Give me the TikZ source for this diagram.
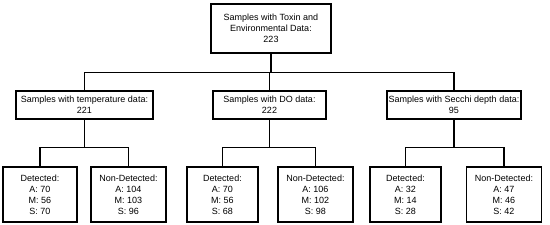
\documentclass[tikz,border=0pt]{standalone}
\usepackage{fontspec}
\setmainfont{Liberation Sans}
\usetikzlibrary{positioning,calc}

\begin{document}
\begin{tikzpicture}[x=1pt,y=-1pt,
  every node/.style={font=\fontsize{9}{11}\selectfont},
  box/.style={draw=black,line width=1.3pt,fill=white,align=center,inner sep=0pt},
  topbox/.style={box,minimum width=120pt,minimum height=49pt},
  midbox/.style={box,minimum height=28pt},
  leaf/.style={box,minimum height=55pt},
  link/.style={line width=1.2pt},
]
\useasboundingbox (0,0) rectangle (550,225);

%% ── Root ───────────────────────────────────────────────
\node[topbox] (root) at (271,28.5) {Samples with Toxin and\\Environmental Data:\\223};

%% ── Second level ───────────────────────────────────────
\node[midbox,minimum width=137pt] (temp)   at (84.5,105) {Samples with temperature data:\\221};
\node[midbox,minimum width=113pt] (do)     at (269.5,105) {Samples with DO data:\\222};
\node[midbox,minimum width=134pt] (secchi) at (454,105) {Samples with Secchi depth data:\\95};

%% ── Leaves ─────────────────────────────────────────────
\node[leaf,minimum width=74pt] (tempdet) at (40,194.5)  {Detected:\\A: 70\\M: 56\\S: 70};
\node[leaf,minimum width=75pt] (tempnon) at (128.5,194.5) {Non-Detected:\\A: 104\\M: 103\\S: 96};
\node[leaf,minimum width=71pt] (dodet)   at (222.5,194.5) {Detected:\\A: 70\\M: 56\\S: 68};
\node[leaf,minimum width=75pt] (donon)   at (315.5,194.5) {Non-Detected:\\A: 106\\M: 102\\S: 98};
\node[leaf,minimum width=71pt] (secdet)  at (405.5,194.5) {Detected:\\A: 32\\M: 14\\S: 28};
\node[leaf,minimum width=75pt] (secnon)  at (504,194.5) {Non-Detected:\\A: 47\\M: 46\\S: 42};

%% ── Connectors ─────────────────────────────────────────
\foreach \child in {temp,do,secchi}
  \draw[link] (root.south) -- ++(0,19) -| (\child.north);
\foreach \parent/\left/\right in {temp/tempdet/tempnon,do/dodet/donon,secchi/secdet/secnon}{
  \draw[link] (\parent.south) -- ++(0,28) -| (\left.north);
  \draw[link] (\parent.south) -- ++(0,28) -| (\right.north);
}

\end{tikzpicture}
\end{document}
